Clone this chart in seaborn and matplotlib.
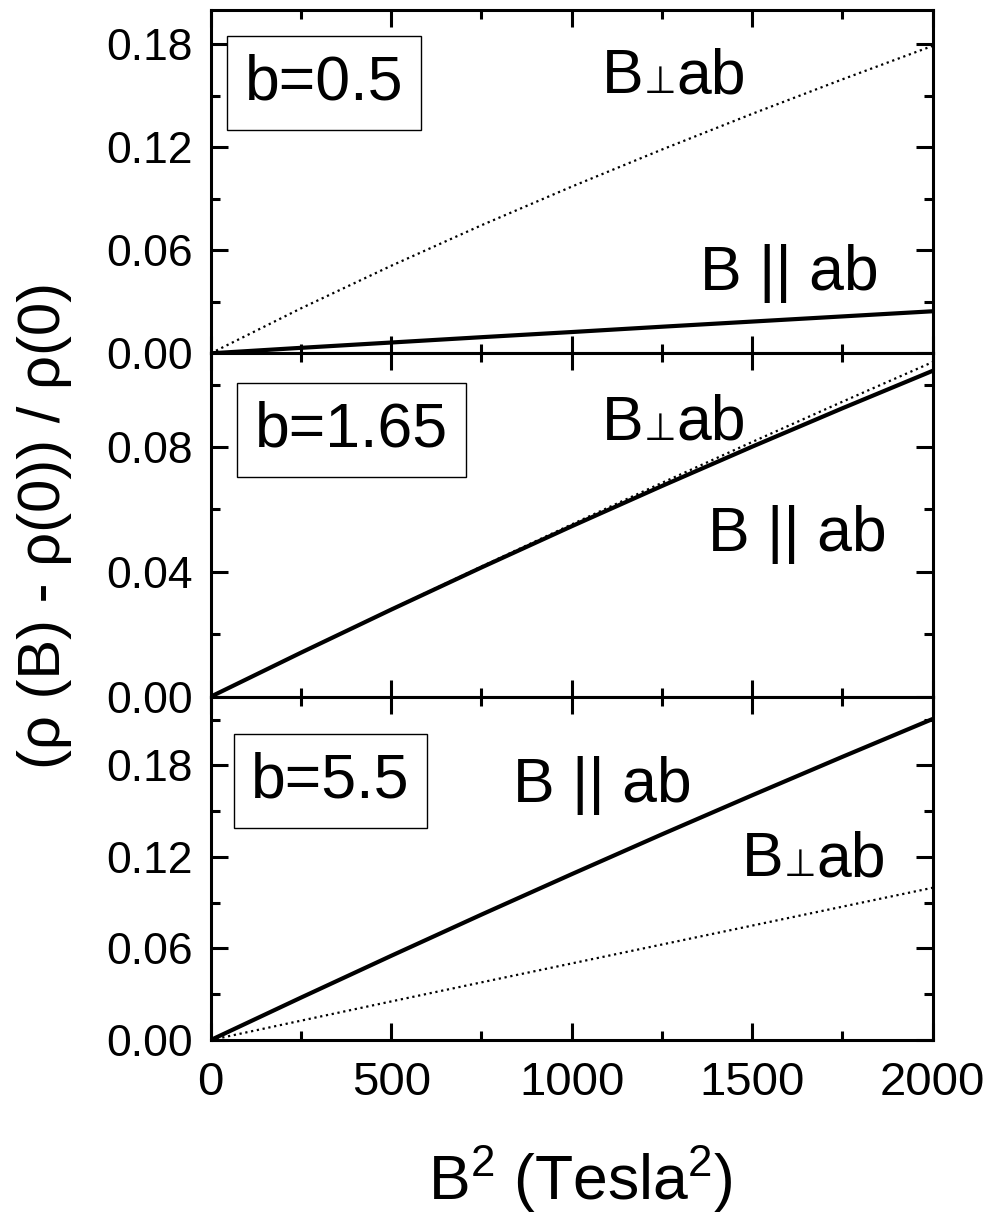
import pandas as pd
import matplotlib.pyplot as plt
import matplotlib.ticker as ticker
import seaborn as sns

# B^2 grid (Tesla^2)
b2 = [0, 250, 500, 750, 1000, 1250, 1500, 1750, 2000]

# b = 0.5
perp_05 = [0, 0.0262, 0.0510, 0.0746, 0.0971, 0.1187, 0.1395, 0.1596, 0.1791]
par_05 = [0, 0.0032, 0.0063, 0.0094, 0.0124, 0.0155, 0.0185, 0.0215, 0.0245]
# b = 1.65
perp_165 = [0, 0.0141, 0.0280, 0.0417, 0.0552, 0.0685, 0.0816, 0.0945, 0.1072]
par_165 = [0, 0.0141, 0.0279, 0.0414, 0.0546, 0.0675, 0.0801, 0.0924, 0.1044]
# b = 5.5
perp_55 = [0, 0.0127, 0.0253, 0.0378, 0.0502, 0.0626, 0.0750, 0.0874, 0.0998]
par_55 = [0, 0.0278, 0.0552, 0.0822, 0.1087, 0.1348, 0.1604, 0.1856, 0.2104]

b_labels = ['b=0.5', 'b=1.65', 'b=5.5']
y_max = [0.2, 0.11, 0.225]
y_major = [0.06, 0.04, 0.06]

# label placement (axes fraction)
box_pos = [(0.157, 0.787), (0.195, 0.778), (0.166, 0.753)]
perp_pos = [(0.542, 0.758), (0.542, 0.748), (0.736, 0.477)]
par_pos = [(0.801, 0.184), (0.812, 0.423), (0.543, 0.693)]

FS = 45


def perp_text(ax, x, y, fs=FS):
    # "B⊥ab" with a small perpendicular sign
    ax.annotate('B', (x, y), xycoords='axes fraction', fontsize=fs,
                ha='left', va='baseline')
    ax.annotate('\u22a5', (x, y), xycoords='axes fraction', xytext=(0.93 * fs, 0),
                textcoords='offset points', fontsize=0.6 * fs,
                family=['DejaVu Sans'], ha='center', va='baseline')
    ax.annotate('ab', (x, y), xycoords='axes fraction', xytext=(1.19 * fs, 0),
                textcoords='offset points', fontsize=fs, ha='left', va='baseline')


sns.set_style('ticks')
plt.rcParams['font.family'] = ['Liberation Sans', 'DejaVu Sans']
plt.rcParams['axes.linewidth'] = 2.2
plt.rcParams['axes.edgecolor'] = 'black'
plt.rcParams['text.color'] = 'black'
plt.rcParams['axes.labelcolor'] = 'black'
plt.rcParams['xtick.color'] = 'black'
plt.rcParams['ytick.color'] = 'black'

fig, axes = plt.subplots(3, 1, sharex=True, figsize=(9.88, 12.16), dpi=100)
plt.subplots_adjust(left=0.2133, right=0.944, top=0.9918, bottom=0.1447, hspace=0)

series = [(perp_05, par_05), (perp_165, par_165), (perp_55, par_55)]

for i, ax in enumerate(axes):
    perp, par = series[i]
    df = pd.DataFrame({'B2': b2, 'perp': perp, 'par': par})
    sns.lineplot(data=df, x='B2', y='perp', ax=ax, color='black',
                 linestyle=':', linewidth=1.6, legend=False)
    sns.lineplot(data=df, x='B2', y='par', ax=ax, color='black',
                 linewidth=3.0, legend=False)

    ax.set_xlim(0, 2000)
    ax.set_ylim(0, y_max[i])
    ax.xaxis.set_major_locator(ticker.MultipleLocator(500))
    ax.xaxis.set_minor_locator(ticker.MultipleLocator(250))
    ax.yaxis.set_major_locator(ticker.MultipleLocator(y_major[i]))
    ax.yaxis.set_minor_locator(ticker.MultipleLocator(y_major[i] / 2))
    ax.yaxis.set_major_formatter(ticker.FormatStrFormatter('%.2f'))
    ax.tick_params(which='both', direction='in', top=True, right=True,
                   width=2.2, color='black')
    ax.tick_params(which='major', length=12)
    ax.tick_params(which='minor', length=6.5)
    ax.tick_params(axis='y', labelsize=32, pad=13)
    ax.tick_params(axis='x', labelsize=34, pad=15)
    ax.set_xlabel('')
    ax.set_ylabel('')

    bx, by = box_pos[i]
    ax.text(bx, by, b_labels[i], transform=ax.transAxes, fontsize=FS,
            ha='center', va='center',
            bbox=dict(boxstyle='square,pad=0.28', fc='white', ec='black', lw=1))
    px, py = perp_pos[i]
    perp_text(ax, px, py)
    qx, qy = par_pos[i]
    ax.text(qx, qy, 'B || ab', transform=ax.transAxes, fontsize=FS,
            ha='center', va='baseline')

axes[1].set_ylabel('(\u03c1 (B) - \u03c1(0)) / \u03c1(0)', fontsize=43)
axes[1].yaxis.set_label_coords(-0.192, 0.5)
axes[2].set_xlabel(r'B$^\mathregular{2}$ (Tesla$^\mathregular{2}$)', fontsize=45)
axes[2].xaxis.set_label_coords(0.5115, -0.30)

fig.savefig('out.png', dpi=100)
